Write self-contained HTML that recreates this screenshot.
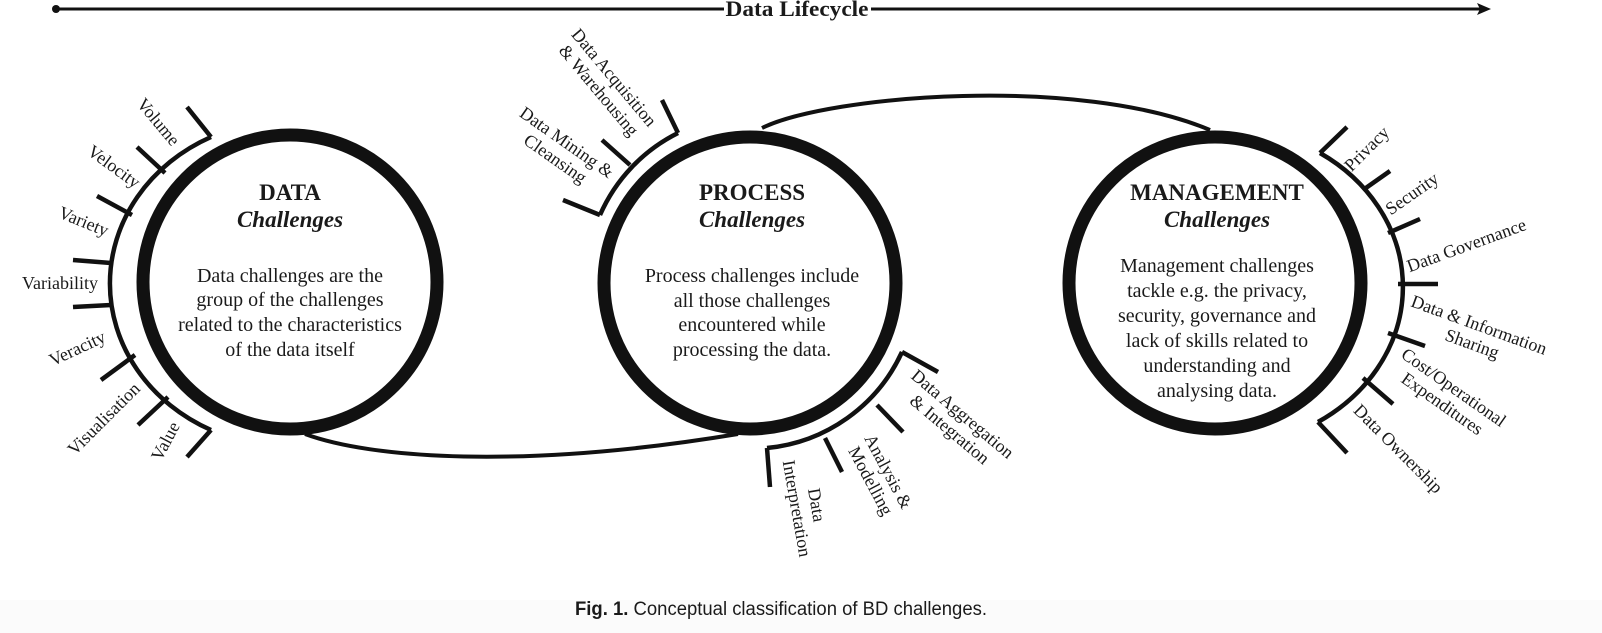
<!DOCTYPE html>
<html><head><meta charset="utf-8"><style>
html,body{margin:0;padding:0;background:#fff;}
svg{display:block;}
text{font-family:"Liberation Serif",serif;fill:#1a1a1a;}
</style></head><body>
<svg width="1602" height="633" viewBox="0 0 1602 633" xmlns="http://www.w3.org/2000/svg">
<rect x="0" y="600" width="1602" height="33" fill="#fbfbfb"/>
<!-- lifecycle line -->
<circle cx="56" cy="9" r="4" fill="#111"/>
<line x1="56" y1="9" x2="724" y2="9" stroke="#111" stroke-width="3"/>
<line x1="871" y1="9" x2="1480" y2="9" stroke="#111" stroke-width="3"/>
<polygon points="1491,9 1477,3 1480,9 1477,15" fill="#111"/>
<text x="797" y="16" font-size="22" font-weight="bold" text-anchor="middle" textLength="143" lengthAdjust="spacingAndGlyphs">Data Lifecycle</text>

<!-- connectors -->
<path d="M305,434 C370,458 520,470 738,434" fill="none" stroke="#111" stroke-width="4"/>
<path d="M762,128 C830,95 1080,75 1210,130" fill="none" stroke="#111" stroke-width="4"/>

<!-- circles -->
<g fill="#fff" stroke="#111" stroke-width="13">
<circle cx="290" cy="282" r="147"/>
<circle cx="750" cy="283" r="146"/>
<circle cx="1215" cy="283" r="146"/>
</g>

<g fill="none" stroke="#111" stroke-width="4.5" stroke-linecap="butt">
<path d="M211,137 A180,163 0 0,0 211,430"/>
<path d="M211,137 L187,107"/>
<path d="M165,173 L137,147"/>
<path d="M132,215 L97,196"/>
<path d="M111,263 L73,260"/>
<path d="M111,305 L73,307"/>
<path d="M135,355 L101,380"/>
<path d="M168,397 L138,425"/>
<path d="M211,430 L187,457"/>
<path d="M678,133 A166,166 0 0,0 600,215"/>
<path d="M678,133 L662,100"/>
<path d="M630,165 L602,140"/>
<path d="M600,215 L563,200"/>
<path d="M902,352 A166,166 0 0,1 767,448"/>
<path d="M902,352 L938,372"/>
<path d="M877,405 L903,432"/>
<path d="M825,438 L842,472"/>
<path d="M767,448 L770,487"/>
<path d="M1320,153 A183,160 0 0,1 1318,422"/>
<path d="M1320,153 L1347,127"/>
<path d="M1363,190 L1390,171"/>
<path d="M1388,233 L1420,219"/>
<path d="M1398,284 L1438,284"/>
<path d="M1388,333 L1425,346"/>
<path d="M1363,378 L1393,404"/>
<path d="M1318,422 L1347,453"/>
</g>

<!-- circle texts -->
<g text-anchor="middle">
<text x="290" y="200" font-size="23" font-weight="bold">DATA</text>
<text x="290" y="227" font-size="23" font-weight="bold" font-style="italic">Challenges</text>
<g font-size="20">
<text x="290" y="282">Data challenges are the</text>
<text x="290" y="306">group of the challenges</text>
<text x="290" y="331">related to the characteristics</text>
<text x="290" y="356">of the data itself</text>
</g>
<text x="752" y="200" font-size="23" font-weight="bold">PROCESS</text>
<text x="752" y="227" font-size="23" font-weight="bold" font-style="italic">Challenges</text>
<g font-size="20">
<text x="752" y="282">Process challenges include</text>
<text x="752" y="307">all those challenges</text>
<text x="752" y="331">encountered while</text>
<text x="752" y="356">processing the data.</text>
</g>
<text x="1217" y="200" font-size="23" font-weight="bold">MANAGEMENT</text>
<text x="1217" y="227" font-size="23" font-weight="bold" font-style="italic">Challenges</text>
<g font-size="20">
<text x="1217" y="272">Management challenges</text>
<text x="1217" y="297">tackle e.g. the privacy,</text>
<text x="1217" y="322">security, governance and</text>
<text x="1217" y="347">lack of skills related to</text>
<text x="1217" y="372">understanding and</text>
<text x="1217" y="397">analysing data.</text>
</g>
</g>

<!-- branch labels -->
<g font-size="18" text-anchor="middle" dominant-baseline="middle">
<text transform="translate(157,123) rotate(50)">Volume</text>
<text transform="translate(113,168) rotate(36)">Velocity</text>
<text transform="translate(83,223) rotate(22)">Variety</text>
<text transform="translate(60,285)">Variability</text>
<text transform="translate(78,350) rotate(-25)">Veracity</text>
<text transform="translate(105,420) rotate(-45)">Visualisation</text>
<text transform="translate(167,442) rotate(-62)">Value</text>

<g transform="translate(605,85) rotate(50)"><text y="-10">Data Acquisition</text><text y="10">&amp; Warehousing</text></g>
<g transform="translate(560,152) rotate(35)"><text y="-10">Data Mining &amp;</text><text y="10">Cleansing</text></g>
<g transform="translate(955,423) rotate(40)"><text y="-10">Data Aggregation</text><text y="10">&amp; Integration</text></g>
<g transform="translate(878,477) rotate(62)"><text y="-10">Analysis &amp;</text><text y="10">Modelling</text></g>
<g transform="translate(805,507) rotate(80)"><text y="-10">Data</text><text y="10">Interpretation</text></g>

<text transform="translate(1368,150) rotate(-45)">Privacy</text>
<text transform="translate(1413,195) rotate(-35)">Security</text>
<text transform="translate(1467,247) rotate(-20)">Data Governance</text>
<g transform="translate(1475,336) rotate(20)"><text y="-10">Data &amp; Information</text><text y="10">Sharing</text></g>
<g transform="translate(1447,397) rotate(35)"><text y="-10">Cost/Operational</text><text y="10">Expenditures</text></g>
<text transform="translate(1397,450) rotate(45)">Data Ownership</text>
</g>

<!-- caption -->
<text x="575" y="615" font-size="19" style="font-family:'Liberation Sans',sans-serif" textLength="412" lengthAdjust="spacingAndGlyphs"><tspan font-weight="bold">Fig. 1.</tspan> Conceptual classification of BD challenges.</text>
</svg>
</body></html>
